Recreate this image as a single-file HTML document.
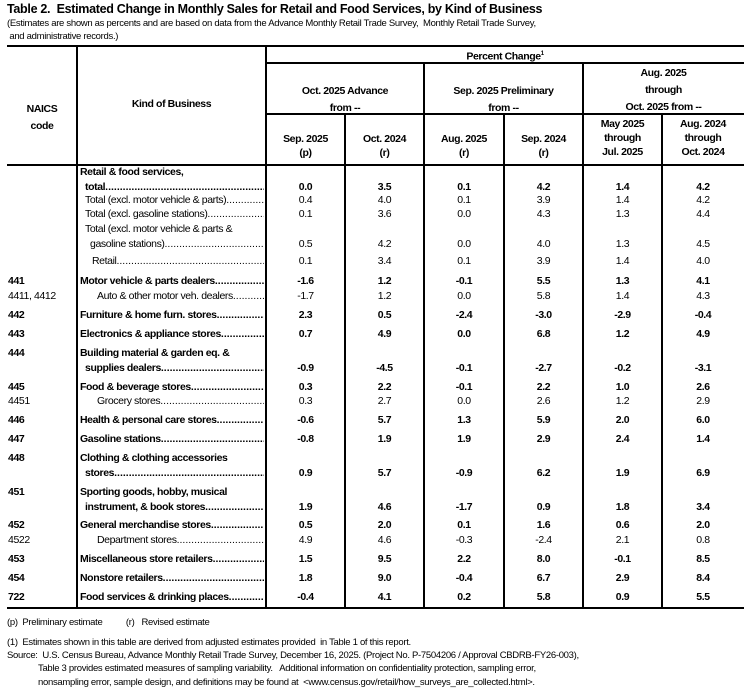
<!DOCTYPE html>
<html><head><meta charset="utf-8">
<style>
body{margin:0;background:#fff;width:746px;height:699px;overflow:hidden;position:relative;font-family:"Liberation Sans",sans-serif;color:#000}
.t{position:absolute;white-space:nowrap;font-size:10.5px;line-height:12px;letter-spacing:-0.4px}
.b{font-weight:bold}
.ln{position:absolute;background:#000}
.c{text-align:center}
.lab{position:absolute;display:flex;font-size:10.5px;line-height:12px;letter-spacing:-0.4px;white-space:nowrap;overflow:hidden}
.lab .d{flex:1;overflow:hidden;letter-spacing:0}
.fn{font-size:9.5px;letter-spacing:-0.3px}
</style></head><body>
<div class="t b" style="left:7px;top:2px;font-size:12.5px;line-height:14px;letter-spacing:-0.3px">Table 2.&nbsp; Estimated Change in Monthly Sales for Retail and Food Services, by Kind of Business</div>
<div class="t fn" style="left:7px;top:18px">(Estimates are shown as percents and are based on data from the Advance Monthly Retail Trade Survey,&nbsp; Monthly Retail Trade Survey,</div>
<div class="t fn" style="left:7px;top:31px">&nbsp;and administrative records.)</div>

<div class="ln" style="left:7px;top:45px;width:737px;height:2px"></div>
<div class="ln" style="left:266px;top:62px;width:478px;height:2px"></div>
<div class="ln" style="left:266px;top:113px;width:478px;height:2px"></div>
<div class="ln" style="left:7px;top:164px;width:737px;height:2px"></div>
<div class="ln" style="left:7px;top:607px;width:737px;height:2px"></div>
<div class="ln" style="left:76px;top:45px;width:2px;height:564px"></div>
<div class="ln" style="left:265px;top:45px;width:2px;height:564px"></div>
<div class="ln" style="left:344px;top:113px;width:2px;height:496px"></div>
<div class="ln" style="left:423px;top:62px;width:2px;height:547px"></div>
<div class="ln" style="left:503px;top:113px;width:2px;height:496px"></div>
<div class="ln" style="left:582px;top:62px;width:2px;height:547px"></div>
<div class="ln" style="left:661px;top:113px;width:2px;height:496px"></div>

<div class="t b c" style="left:7px;top:101px;width:70px;line-height:17px">NAICS<br>code</div>
<div class="t b c" style="left:77px;top:98px;width:189px">Kind of Business</div>
<div class="t b c" style="left:266px;top:48px;width:478px">Percent Change<sup style="font-size:6px">1</sup></div>
<div class="t b c" style="left:266px;top:83px;width:158px;line-height:17px">Oct. 2025 Advance<br>from --</div>
<div class="t b c" style="left:424px;top:83px;width:159px;line-height:17px">Sep. 2025 Preliminary<br>from --</div>
<div class="t b c" style="left:583px;top:65px;width:161px;line-height:17px">Aug. 2025<br>through<br>Oct. 2025 from --</div>
<div class="t b c" style="left:266px;top:132px;width:79px;line-height:14px">Sep. 2025<br>(p)</div>
<div class="t b c" style="left:345px;top:132px;width:79px;line-height:14px">Oct. 2024<br>(r)</div>
<div class="t b c" style="left:424px;top:132px;width:80px;line-height:14px">Aug. 2025<br>(r)</div>
<div class="t b c" style="left:504px;top:132px;width:79px;line-height:14px">Sep. 2024<br>(r)</div>
<div class="t b c" style="left:583px;top:117px;width:79px;line-height:14px">May 2025<br>through<br>Jul. 2025</div>
<div class="t b c" style="left:662px;top:117px;width:82px;line-height:14px">Aug. 2024<br>through<br>Oct. 2024</div>

<div id="rows"></div>

<div class="t fn" style="left:7px;top:617px">(p)&nbsp; Preliminary estimate&nbsp;&nbsp;&nbsp;&nbsp;&nbsp;&nbsp;&nbsp;&nbsp;&nbsp; (r)&nbsp;&nbsp; Revised estimate</div>
<div class="t fn" style="left:7px;top:637px">(1)&nbsp; Estimates shown in this table are derived from adjusted estimates provided&nbsp; in Table 1 of this report.</div>
<div class="t fn" style="left:7px;top:650px">Source:&nbsp; U.S. Census Bureau, Advance Monthly Retail Trade Survey, December 16, 2025. (Project No. P-7504206 / Approval CBDRB-FY26-003),</div>
<div class="t fn" style="left:38px;top:663px">Table 3 provides estimated measures of sampling variability.&nbsp;&nbsp; Additional information on confidentiality protection, sampling error,</div>
<div class="t fn" style="left:38px;top:677px">nonsampling error, sample design, and definitions may be found at&nbsp; &lt;www.census.gov/retail/how_surveys_are_collected.html&gt;.</div>

<script>
const codes=["","","","","","441","4411, 4412","442","443","444","445","4451","446","447","448","451","452","4522","453","454","722"];
const labels=[["Retail & food services,","total"],["Total (excl. motor vehicle & parts)"],["Total (excl. gasoline stations)"],["Total (excl. motor vehicle & parts &","gasoline stations)"],["Retail"],["Motor vehicle & parts dealers"],["Auto & other motor veh. dealers"],["Furniture & home furn. stores"],["Electronics & appliance stores"],["Building material & garden eq. &","supplies dealers"],["Food & beverage stores"],["Grocery stores"],["Health & personal care stores"],["Gasoline stations"],["Clothing & clothing accessories","stores"],["Sporting goods, hobby, musical","instrument, & book stores"],["General merchandise stores"],["Department stores"],["Miscellaneous store retailers"],["Nonstore retailers"],["Food services & drinking places"]];
const colSep2025=["0.0","0.4","0.1","0.5","0.1","-1.6","-1.7","2.3","0.7","-0.9","0.3","0.3","-0.6","-0.8","0.9","1.9","0.5","4.9","1.5","1.8","-0.4"];
const colOct2024=["3.5","4.0","3.6","4.2","3.4","1.2","1.2","0.5","4.9","-4.5","2.2","2.7","5.7","1.9","5.7","4.6","2.0","4.6","9.5","9.0","4.1"];
const colAug2025=["0.1","0.1","0.0","0.0","0.1","-0.1","0.0","-2.4","0.0","-0.1","-0.1","0.0","1.3","1.9","-0.9","-1.7","0.1","-0.3","2.2","-0.4","0.2"];
const colSep2024=["4.2","3.9","4.3","4.0","3.9","5.5","5.8","-3.0","6.8","-2.7","2.2","2.6","5.9","2.9","6.2","0.9","1.6","-2.4","8.0","6.7","5.8"];
const colMayJul=["1.4","1.4","1.3","1.3","1.4","1.3","1.4","-2.9","1.2","-0.2","1.0","1.2","2.0","2.4","1.9","1.8","0.6","2.1","-0.1","2.9","0.9"];
const colAugOct=["4.2","4.2","4.4","4.5","4.0","4.1","4.3","-0.4","4.9","-3.1","2.6","2.9","6.0","1.4","6.9","3.4","2.0","0.8","8.5","8.4","5.5"];
const bold=[1,0,0,0,0,1,0,1,1,1,1,0,1,1,1,1,1,0,1,1,1];
const indent=[0,5,5,5,12,0,17,0,0,0,0,17,0,0,0,0,0,17,0,0,0];
const rowY=[172,200,214,229,261,281,296,315,334,353,387,401,420,439,458,492,525,540,559,578,597];
const colX=[266,345,424,504,583,662];
const colW=[79,79,80,79,79,82];
const cols=[colSep2025,colOct2024,colAug2025,colSep2024,colMayJul,colAugOct];
const root=document.getElementById('rows');
const DOTS='.'.repeat(200);
for(let i=0;i<codes.length;i++){
  const y=rowY[i];
  const lines=labels[i];
  const lastY=y+(lines.length-1)*14.5;
  const isB=bold[i]===1;
  const cd=document.createElement('div');
  cd.className='t'+(isB?' b':'');
  cd.style.left='8px';cd.style.top=(y-6)+'px';
  cd.textContent=codes[i];
  
  
  root.appendChild(cd);
  for(let j=0;j<lines.length;j++){
    const last=j===lines.length-1;
    const ly=j===0?y:lastY;
    const x=80+(j>0?5:0)+indent[i];
    const el=document.createElement('div');
    el.className='lab'+(isB?' b':'');
    el.style.left=x+'px';el.style.top=(ly-6)+'px';el.style.width=(264-x)+'px';
    const s=document.createElement('span');
    s.textContent=lines[j]+(last?' ':'');
    el.appendChild(s);
    if(last){const d=document.createElement('span');d.className='d';d.textContent=DOTS;el.appendChild(d);}
    
    
    root.appendChild(el);
  }
  for(let k=0;k<6;k++){
    const v=document.createElement('div');
    v.className='t c'+(isB?' b':'');
    v.style.left=colX[k]+'px';v.style.width=colW[k]+'px';v.style.top=(lastY-6)+'px';
    v.textContent=cols[k][i];
    
    
    root.appendChild(v);
  }
}
</script>
</body></html>
